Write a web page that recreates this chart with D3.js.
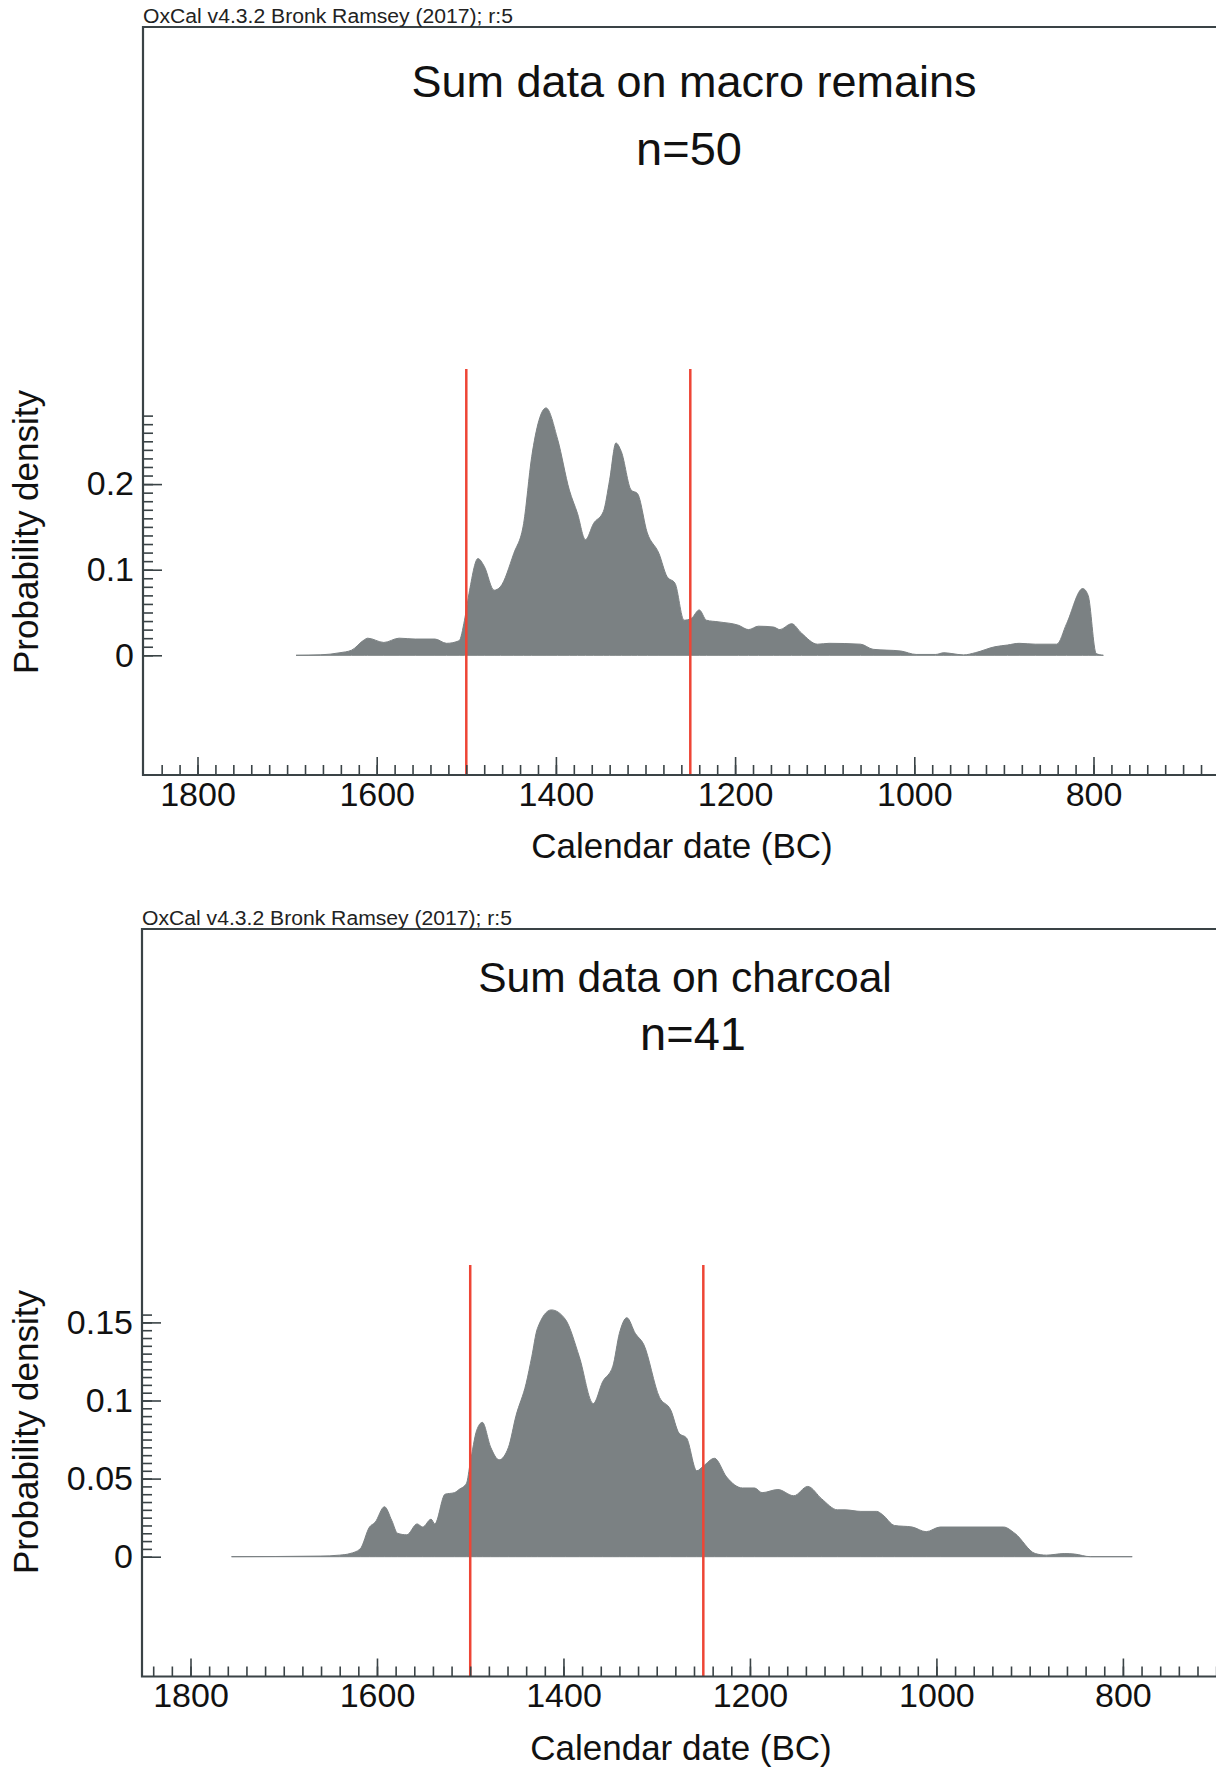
<!DOCTYPE html>
<html>
<head>
<meta charset="utf-8">
<script src="https://cdn.jsdelivr.net/npm/d3@7"></script>
<style>
  html, body { margin: 0; padding: 0; background: #fff; }
  svg { display: block; font-family: "Liberation Sans", Arial, Helvetica, sans-serif; }
</style>
</head>
<body>
<svg id="chart" width="1216" height="1769"></svg>
<script>
// Summed probability distributions (calendar years BC, probability density)
const macroYears = [1690, 1663, 1641, 1628, 1614, 1610, 1592, 1575, 1557, 1535, 1522, 1508,
  1502, 1497, 1487, 1480, 1469, 1462, 1447, 1436, 1427, 1411, 1398, 1385, 1376, 1367, 1358,
  1347, 1340, 1333, 1327, 1316, 1309, 1298, 1285, 1276, 1267, 1257, 1249, 1240, 1232, 1218,
  1196, 1185, 1174, 1157, 1150, 1137, 1126, 1108, 1095, 1060, 1046, 1015, 998, 976, 967, 958,
  945, 932, 910, 896, 883, 865, 841, 830, 812, 806, 797, 789];
const macroDensity = [0, 0.0005, 0.003, 0.006, 0.018, 0.020, 0.015, 0.020, 0.019, 0.019, 0.014, 0.017,
  0.041, 0.072, 0.113, 0.104, 0.076, 0.080, 0.119, 0.154, 0.232, 0.289, 0.252, 0.193, 0.166, 0.135, 0.154,
  0.168, 0.205, 0.248, 0.238, 0.193, 0.189, 0.143, 0.119, 0.092, 0.084, 0.041, 0.043, 0.053, 0.041, 0.039,
  0.035, 0.030, 0.034, 0.033, 0.030, 0.037, 0.026, 0.013, 0.014, 0.013, 0.007, 0.005, 0.001, 0.001, 0.003, 0.002,
  0.0004, 0.003, 0.010, 0.012, 0.014, 0.013, 0.013, 0.037, 0.078, 0.070, 0.002, 0];

const charcoalYears = [1756, 1661, 1640, 1629, 1618, 1608, 1602, 1592, 1584, 1578, 1568, 1557,
  1551, 1542, 1538, 1527, 1517, 1512, 1504, 1500, 1493, 1487, 1478, 1469, 1459, 1451, 1440,
  1434, 1428, 1413, 1398, 1383, 1368, 1358, 1347, 1340, 1332, 1323, 1314, 1297, 1285, 1276,
  1268, 1257, 1250, 1238, 1225, 1208, 1195, 1187, 1170, 1153, 1138, 1123, 1106, 1098, 1081,
  1064, 1058, 1045, 1026, 1011, 996, 979, 950, 928, 916, 894, 882, 863, 852, 835, 790];
const charcoalDensity = [0, 0.0004, 0.001, 0.002, 0.005, 0.019, 0.022, 0.032, 0.023, 0.015, 0.014, 0.021,
  0.019, 0.024, 0.021, 0.040, 0.041, 0.043, 0.047, 0.060, 0.081, 0.086, 0.070, 0.062, 0.070, 0.090, 0.111,
  0.128, 0.146, 0.158, 0.152, 0.128, 0.098, 0.112, 0.122, 0.143, 0.153, 0.143, 0.136, 0.102, 0.094, 0.079,
  0.076, 0.055, 0.058, 0.063, 0.051, 0.044, 0.044, 0.041, 0.043, 0.039, 0.045, 0.037, 0.030, 0.030, 0.029,
  0.029, 0.027, 0.020, 0.019, 0.016, 0.019, 0.019, 0.019, 0.019, 0.015, 0.002, 0.001, 0.002, 0.0017, 0, 0];

// Phase boundaries marked in red (years BC)
const boundaryYears = [1500, 1250];

// Axis tick labels
const xTickLabels = [1800, 1600, 1400, 1200, 1000, 800];
const macroYTickLabels = [0, 0.1, 0.2];
const charcoalYTickLabels = [0, 0.05, 0.1, 0.15];

const headerText = "OxCal v4.3.2 Bronk Ramsey (2017); r:5";
const panelTitles = ["Sum data on macro remains", "Sum data on charcoal"];
const panelCounts = ["n=50", "n=41"];
const xAxisTitle = "Calendar date (BC)";
const yAxisTitle = "Probability density";

const svg = d3.select("#chart");
const INK = "#111";
const FRAME = "#3a4346";
const FILL = "#7b8183";
const RED = "#ee4535";

const panels = [
  {
    years: macroYears, density: macroDensity,
    title: panelTitles[0], count: panelCounts[0], yTicks: macroYTickLabels,
    yMinorStep: 0.01, yMinorMax: 0.28,
    frameLeft: 143, frameTop: 27, axisY: 775,
    x1800: 197.5, x800: 1093.5, y0: 655.3, yPerUnit: 856,
    redTop: 369, headerY: 23,
    titleX: 694, titleY: 97, titleSize: 45, countX: 689, countY: 165, countSize: 47,
    xLabelPad: 7, xTitleX: 682, xTitleY: 858, yTitleY: 532
  },
  {
    years: charcoalYears, density: charcoalDensity,
    title: panelTitles[1], count: panelCounts[1], yTicks: charcoalYTickLabels,
    yMinorStep: 0.005, yMinorMax: 0.155,
    frameLeft: 142, frameTop: 929, axisY: 1676.5,
    x1800: 190.5, x800: 1122.9, y0: 1556.7, yPerUnit: 1562,
    redTop: 1265, headerY: 925,
    titleX: 685, titleY: 992, titleSize: 42.5, countX: 693, countY: 1050, countSize: 47,
    xLabelPad: 6, xTitleX: 681, xTitleY: 1760, yTitleY: 1432
  }
];

panels.forEach(p => {
  const g = svg.append("g");
  const frameRight = 1240;

  // scales: years BC count down from left to right
  const x = d3.scaleLinear().domain([1800, 800]).range([p.x1800, p.x800]);
  const y = d3.scaleLinear().domain([0, 0.1]).range([p.y0, p.y0 - 0.1 * p.yPerUnit]);
  const xLeftYear = x.invert(p.frameLeft);
  const xRightYear = x.invert(frameRight);

  const pts = p.years.map((yr, i) => ({ yr, v: p.density[i] }));

  // density area
  const area = d3.area()
    .curve(d3.curveMonotoneX)
    .x(d => x(d.yr))
    .y0(y(0))
    .y1(d => y(d.v));
  g.append("path")
    .datum(pts)
    .attr("d", area)
    .attr("fill", FILL)
    .attr("stroke", FILL)
    .attr("stroke-width", 1)
    .attr("stroke-linejoin", "round");

  // boundary lines
  g.selectAll("line.boundary")
    .data(boundaryYears)
    .join("line")
    .attr("class", "boundary")
    .attr("x1", d => x(d)).attr("x2", d => x(d))
    .attr("y1", p.redTop).attr("y2", p.axisY)
    .attr("stroke", RED)
    .attr("stroke-width", 2.5);

  // frame (top and left edges; bottom is the x axis)
  g.append("path")
    .attr("d", `M${frameRight},${p.frameTop}H${p.frameLeft}V${p.axisY}H${frameRight}`)
    .attr("fill", "none")
    .attr("stroke", FRAME)
    .attr("stroke-width", 2.2);

  // x axis: minor ticks every 20 years, major every 200 with labels
  const minorYears = d3.range(1840, 640, -20).filter(v => v <= xLeftYear && v >= xRightYear);
  const xMinor = g.append("g")
    .attr("transform", `translate(0,${p.axisY})`)
    .call(d3.axisBottom(x).tickValues(minorYears).tickSize(-10).tickFormat(""));
  const xMajor = g.append("g")
    .attr("transform", `translate(0,${p.axisY})`)
    .call(d3.axisBottom(x).tickValues(xTickLabels).tickSize(-18).tickPadding(p.xLabelPad)
      .tickFormat(d3.format("d")));
  [xMinor, xMajor].forEach(a => {
    a.select(".domain").remove();
    a.selectAll(".tick line").attr("stroke", FRAME).attr("stroke-width", 1.6);
  });
  xMajor.selectAll(".tick text")
    .attr("fill", INK)
    .attr("font-size", 34)
    .attr("font-family", null);

  // y axis: minor and major ticks pointing inwards
  const nMinor = Math.round(p.yMinorMax / p.yMinorStep);
  const minorVals = d3.range(0, nMinor + 1).map(i => +(i * p.yMinorStep).toFixed(4));
  const yMinor = g.append("g")
    .attr("transform", `translate(${p.frameLeft},0)`)
    .call(d3.axisLeft(y).tickValues(minorVals).tickSize(-10).tickFormat(""));
  const yMajor = g.append("g")
    .attr("transform", `translate(${p.frameLeft},0)`)
    .call(d3.axisLeft(y).tickValues(p.yTicks).tickSize(-19).tickPadding(9)
      .tickFormat(d => d === 0 ? "0" : String(d)));
  [yMinor, yMajor].forEach(a => {
    a.select(".domain").remove();
    a.selectAll(".tick line").attr("stroke", FRAME).attr("stroke-width", 1.6);
  });
  yMajor.selectAll(".tick text")
    .attr("fill", INK)
    .attr("font-size", 34)
    .attr("font-family", null);

  // header
  g.append("text")
    .attr("x", p.frameLeft)
    .attr("y", p.headerY)
    .attr("font-size", 20)
    .attr("textLength", 370)
    .attr("lengthAdjust", "spacingAndGlyphs")
    .attr("fill", "#222")
    .text(headerText);

  // titles
  g.append("text")
    .attr("x", p.titleX).attr("y", p.titleY)
    .attr("text-anchor", "middle")
    .attr("font-size", p.titleSize)
    .attr("fill", INK)
    .text(p.title);
  g.append("text")
    .attr("x", p.countX).attr("y", p.countY)
    .attr("text-anchor", "middle")
    .attr("font-size", p.countSize)
    .attr("fill", INK)
    .text(p.count);

  // axis titles
  g.append("text")
    .attr("x", p.xTitleX).attr("y", p.xTitleY)
    .attr("text-anchor", "middle")
    .attr("font-size", 35)
    .attr("fill", INK)
    .text(xAxisTitle);
  g.append("text")
    .attr("transform", `translate(38,${p.yTitleY}) rotate(-90)`)
    .attr("text-anchor", "middle")
    .attr("font-size", 35)
    .attr("fill", INK)
    .text(yAxisTitle);
});
</script>
</body>
</html>
